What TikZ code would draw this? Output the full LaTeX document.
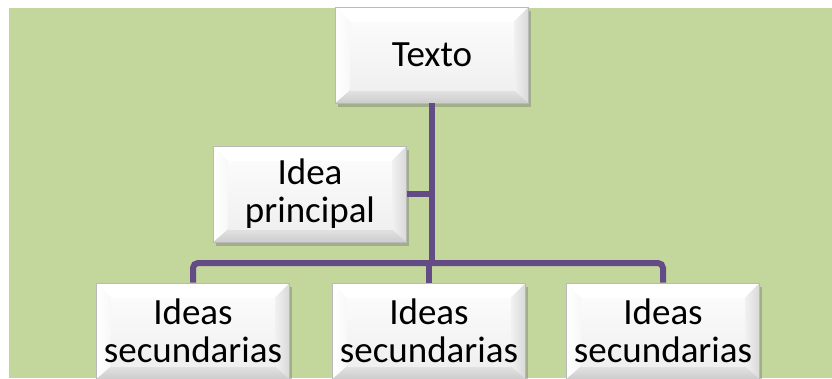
\documentclass[tikz,border=0pt]{standalone}
\usepackage{fontspec}
\setmainfont{Carlito}
\usetikzlibrary{shadows}
\definecolor{bgg}{HTML}{C3D69B}
\definecolor{conncol}{HTML}{634C86}
\tikzset{
  x=1pt, y=-1pt,
  conn/.style={draw=conncol, line width=6pt},
  bevelbox/.style={
    draw=gray!55, line width=0.6pt, inner sep=0pt,
    minimum width=193pt, minimum height=96pt,
    align=center, font=\fontsize{37}{38}\selectfont,
    top color=white, bottom color=gray!22,
    drop shadow={shadow xshift=2pt, shadow yshift=-4pt, opacity=0.35, fill=black!60},
    path picture={
      \coordinate (pnw) at (path picture bounding box.north west);
      \coordinate (pne) at (path picture bounding box.north east);
      \coordinate (psw) at (path picture bounding box.south west);
      \coordinate (pse) at (path picture bounding box.south east);
      \coordinate (inw) at ([xshift=15pt,yshift=-15pt]pnw);
      \coordinate (ine) at ([xshift=-15pt,yshift=-15pt]pne);
      \coordinate (isw) at ([xshift=15pt,yshift=13pt]psw);
      \coordinate (ise) at ([xshift=-15pt,yshift=13pt]pse);
      \fill[white] (pnw) -- (pne) -- (ine) -- (inw) -- cycle;
      \shade[left color=white, right color=gray!6] (pnw) -- (inw) -- (isw) -- (psw) -- cycle;
      \shade[left color=gray!10, right color=gray!30] (pne) -- (ine) -- (ise) -- (pse) -- cycle;
      \shade[top color=gray!22, bottom color=gray!40] (psw) -- (isw) -- (ise) -- (pse) -- cycle;
      \shade[top color=gray!3, bottom color=gray!12] (inw) rectangle (ise);
    }
  }
}
\begin{document}
\begin{tikzpicture}
\useasboundingbox (0,0) rectangle (832,378);
\clip (0,0) rectangle (832,378);
\fill[bgg] (9,8) rectangle (832,378);

\node[bevelbox] (texto) at (432,55) {Texto};
\node[bevelbox] (idea) at (310,194) {Idea\\principal};
\node[bevelbox] (s1) at (193,331) {Ideas\\secundarias};
\node[bevelbox] (s2) at (429,331) {Ideas\\secundarias};
\node[bevelbox] (s3) at (663,331) {Ideas\\secundarias};

\coordinate (j) at (432,263);
\draw[conn] (texto.south) -- (j);
\draw[conn] (idea.east) -- (idea.east -| j);
\draw[conn, rounded corners=5pt] (s1.north) |- (j) -| (s3.north);
\draw[conn] (j -| s2.north) -- (s2.north);
\end{tikzpicture}
\end{document}
